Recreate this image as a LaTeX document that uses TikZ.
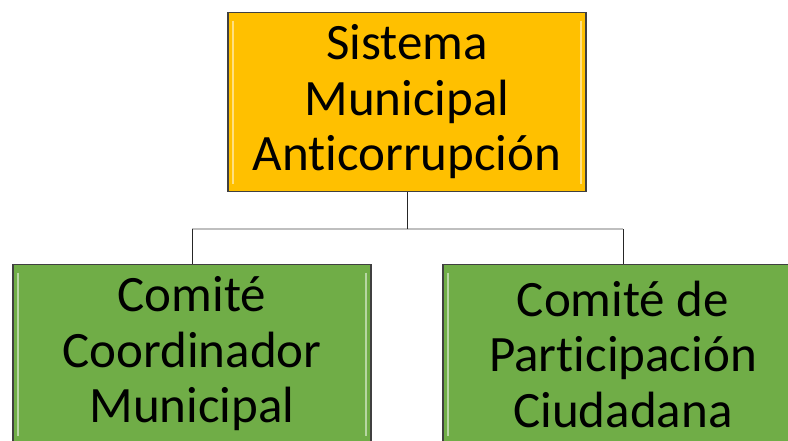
\documentclass[tikz,border=0pt]{standalone}
\usepackage{fontspec}
\setmainfont{Carlito}[Ligatures=CommonOff]
\usepackage{tikz}

\definecolor{boxorange}{HTML}{FFC000}
\definecolor{boxgreen}{HTML}{70AD47}
\definecolor{busgray}{HTML}{BFBFBF}

\tikzset{
  unit/.style={draw=black!75, line width=1.2pt, align=center, inner sep=0pt,
    minimum width=358pt, minimum height=179pt,
    font=\fontsize{51}{55.5}\selectfont,
    path picture={
      \draw[white, opacity=0.5, line width=2.5pt]
        ([xshift=5pt,yshift=-8pt]path picture bounding box.north west) --
        ([xshift=5pt,yshift=8pt]path picture bounding box.south west);
      \draw[white, opacity=0.5, line width=2.5pt]
        ([xshift=-5pt,yshift=-8pt]path picture bounding box.north east) --
        ([xshift=-5pt,yshift=8pt]path picture bounding box.south east);
    }},
  stem/.style={draw=black!85, line width=1pt},
  bus/.style={draw=busgray, line width=1.5pt}
}

\begin{document}
\begin{tikzpicture}[x=1pt, y=-1pt]
            \useasboundingbox (0,0) rectangle (788,440);
            \clip (0,0) rectangle (788,440);
            \node[unit, fill=boxorange] (sma) at (407,102) {Sistema\\Municipal\\Anticorrupción};
            \node[unit, fill=boxgreen] (ccm) at (192,354) {Comité\\Coordinador\\Municipal};
            \node[unit, fill=boxgreen, minimum width=360pt] (cpc) at (623,354) {Comité de\\Participación\\Ciudadana};
            \coordinate (hub) at (407,229);
            \draw[bus] (ccm.north |- hub) -- (cpc.north |- hub);
            \draw[stem] (sma.south) -- (hub);
            \draw[stem] (ccm.north |- hub) -- (ccm.north);
            \draw[stem] (cpc.north |- hub) -- (cpc.north);
        \end{tikzpicture}
\end{document}
